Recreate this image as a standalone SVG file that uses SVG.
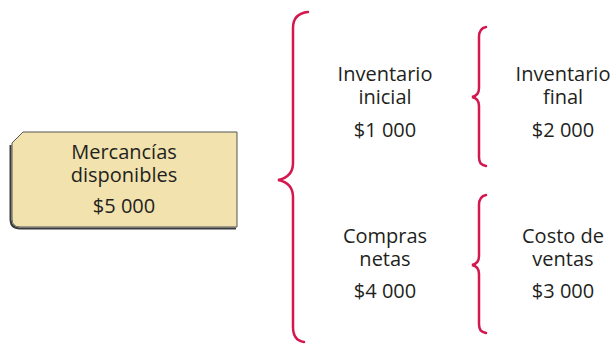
<svg xmlns="http://www.w3.org/2000/svg" width="614" height="344" viewBox="0 0 614 344">
<style>
.t{font-family:"Open Sans","Liberation Sans",sans-serif;font-size:20px;fill:#231f20;text-anchor:middle}
.br{fill:none;stroke:#d4174f;stroke-width:2.5;stroke-linecap:round}
</style>
<rect width="614" height="344" fill="#ffffff"/>
<g id="mercancias">
<path d="M10.5,145 L10.5,219 Q10.5,228.5 20,228.5 L236,228.5" fill="none" stroke="#3a3a3a" stroke-width="2"/>
<path d="M12,143 L23,132 L237,132 L237,227 L20,227 Q12,227 12,219 Z" fill="#f1e2ae" stroke="#555555" stroke-width="1"/>
<text class="t" x="124" y="159">Mercancías</text>
<text class="t" x="124" y="182">disponibles</text>
<text class="t" x="124" y="213">$5 000</text>
</g>
<g id="connectors">
<path class="br" d="M308,12 C298,13 293,18 293,28 L293,163 C293,172 288,178 278,180 C288,182 293,188 293,197 L293,327 C293,337 297,341 304,342"/>
<path class="br" d="M486,27 C481,28 479,31 479,37 L479,88 C479,93 477,96 472,97 C477,98 479,101 479,106 L479,157 C479,163 481,165 486,166"/>
<path class="br" d="M486,195 C481,196 479,199 479,205 L479,256 C479,261 477,264 472,265 C477,266 479,269 479,274 L479,324 C479,330 481,332 486,333"/>
</g>
<g id="inventario-inicial">
<text class="t" x="385" y="81">Inventario</text>
<text class="t" x="385" y="104">inicial</text>
<text class="t" x="385" y="137">$1 000</text>
</g>
<g id="inventario-final">
<text class="t" x="563" y="81">Inventario</text>
<text class="t" x="563" y="104">final</text>
<text class="t" x="563" y="137">$2 000</text>
</g>
<g id="compras-netas">
<text class="t" x="385" y="243">Compras</text>
<text class="t" x="385" y="266">netas</text>
<text class="t" x="385" y="298">$4 000</text>
</g>
<g id="costo-ventas">
<text class="t" x="563" y="243">Costo de</text>
<text class="t" x="563" y="266">ventas</text>
<text class="t" x="563" y="298">$3 000</text>
</g>
</svg>
